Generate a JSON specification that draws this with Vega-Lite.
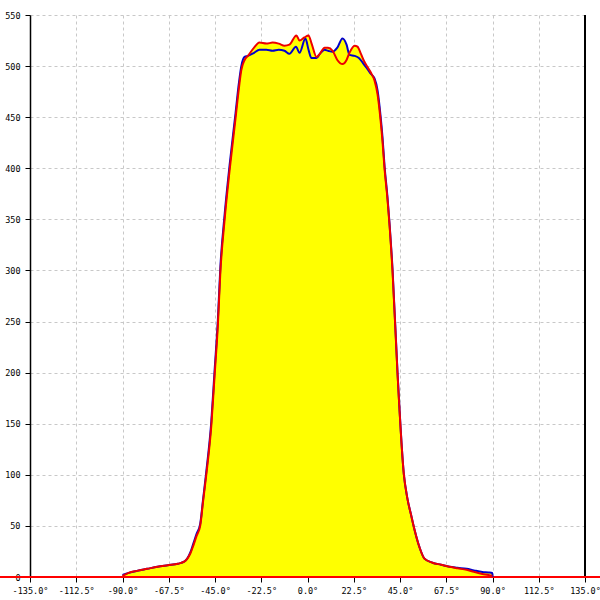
{
  "$schema": "https://vega.github.io/schema/vega-lite/v6.json",
  "width": 555,
  "height": 562,
  "autosize": {"type": "none"},
  "padding": {"left": 30, "top": 15, "right": 15, "bottom": 23},
  "background": "white",
  "config": {
    "view": {"stroke": null},
    "font": "DejaVu Sans Mono",
    "axis": {
      "labelFont": "DejaVu Sans Mono",
      "labelFontSize": 8.5,
      "labelColor": "#000000",
      "gridColor": "#c8c8c8",
      "gridDash": [3, 3],
      "gridWidth": 1,
      "tickColor": "#000000",
      "tickSize": 5,
      "domainColor": "#000000",
      "title": null
    }
  },
  "data": {
    "values": [
      {"angle": -90, "value": 2, "series": "blue"},
      {"angle": -87, "value": 4, "series": "blue"},
      {"angle": -83, "value": 6, "series": "blue"},
      {"angle": -78, "value": 8, "series": "blue"},
      {"angle": -73, "value": 10, "series": "blue"},
      {"angle": -68, "value": 11.5, "series": "blue"},
      {"angle": -63, "value": 13, "series": "blue"},
      {"angle": -60, "value": 15, "series": "blue"},
      {"angle": -58.5, "value": 18, "series": "blue"},
      {"angle": -57, "value": 24, "series": "blue"},
      {"angle": -55.5, "value": 33, "series": "blue"},
      {"angle": -54, "value": 42, "series": "blue"},
      {"angle": -52.2, "value": 52, "series": "blue"},
      {"angle": -50.8, "value": 76, "series": "blue"},
      {"angle": -49.3, "value": 102, "series": "blue"},
      {"angle": -46.8, "value": 152, "series": "blue"},
      {"angle": -45.2, "value": 202, "series": "blue"},
      {"angle": -43.6, "value": 252, "series": "blue"},
      {"angle": -42.4, "value": 303, "series": "blue"},
      {"angle": -40.4, "value": 353, "series": "blue"},
      {"angle": -37.9, "value": 403, "series": "blue"},
      {"angle": -35.0, "value": 454, "series": "blue"},
      {"angle": -33.4, "value": 483, "series": "blue"},
      {"angle": -32.2, "value": 500, "series": "blue"},
      {"angle": -30.6, "value": 509, "series": "blue"},
      {"angle": -29, "value": 510, "series": "blue"},
      {"angle": -26, "value": 513, "series": "blue"},
      {"angle": -23.4, "value": 516, "series": "blue"},
      {"angle": -20, "value": 516, "series": "blue"},
      {"angle": -17, "value": 515, "series": "blue"},
      {"angle": -14, "value": 516, "series": "blue"},
      {"angle": -11.2, "value": 515, "series": "blue"},
      {"angle": -8.8, "value": 512, "series": "blue"},
      {"angle": -5.6, "value": 519, "series": "blue"},
      {"angle": -3.9, "value": 513, "series": "blue"},
      {"angle": -1, "value": 527, "series": "blue"},
      {"angle": 0.5, "value": 516, "series": "blue"},
      {"angle": 1.9, "value": 508, "series": "blue"},
      {"angle": 4.4, "value": 508, "series": "blue"},
      {"angle": 6, "value": 512, "series": "blue"},
      {"angle": 8.3, "value": 516, "series": "blue"},
      {"angle": 10, "value": 515, "series": "blue"},
      {"angle": 12.2, "value": 514, "series": "blue"},
      {"angle": 14.5, "value": 518, "series": "blue"},
      {"angle": 17, "value": 527, "series": "blue"},
      {"angle": 19, "value": 521, "series": "blue"},
      {"angle": 20.4, "value": 511, "series": "blue"},
      {"angle": 22.9, "value": 510, "series": "blue"},
      {"angle": 25, "value": 508, "series": "blue"},
      {"angle": 27, "value": 503, "series": "blue"},
      {"angle": 29.2, "value": 497, "series": "blue"},
      {"angle": 31, "value": 492, "series": "blue"},
      {"angle": 32.6, "value": 488, "series": "blue"},
      {"angle": 34.1, "value": 476, "series": "blue"},
      {"angle": 35.5, "value": 452, "series": "blue"},
      {"angle": 36.5, "value": 430, "series": "blue"},
      {"angle": 37.5, "value": 402, "series": "blue"},
      {"angle": 38.9, "value": 372, "series": "blue"},
      {"angle": 41.4, "value": 300, "series": "blue"},
      {"angle": 43.8, "value": 200, "series": "blue"},
      {"angle": 46.9, "value": 100, "series": "blue"},
      {"angle": 48.5, "value": 78, "series": "blue"},
      {"angle": 50.6, "value": 59, "series": "blue"},
      {"angle": 52.1, "value": 46, "series": "blue"},
      {"angle": 54.5, "value": 29, "series": "blue"},
      {"angle": 56.9, "value": 18, "series": "blue"},
      {"angle": 60.8, "value": 14, "series": "blue"},
      {"angle": 65, "value": 12, "series": "blue"},
      {"angle": 69.1, "value": 10, "series": "blue"},
      {"angle": 73, "value": 9, "series": "blue"},
      {"angle": 77.4, "value": 8, "series": "blue"},
      {"angle": 81, "value": 6.5, "series": "blue"},
      {"angle": 85.1, "value": 5, "series": "blue"},
      {"angle": 88, "value": 4.5, "series": "blue"},
      {"angle": 89.9, "value": 4, "series": "blue"},
      {"angle": 90, "value": 0, "series": "blue"},

      {"angle": -90, "value": 1, "series": "red"},
      {"angle": -87, "value": 4, "series": "red"},
      {"angle": -83, "value": 6, "series": "red"},
      {"angle": -78, "value": 8, "series": "red"},
      {"angle": -73, "value": 10, "series": "red"},
      {"angle": -68, "value": 11.5, "series": "red"},
      {"angle": -63, "value": 13, "series": "red"},
      {"angle": -60, "value": 15, "series": "red"},
      {"angle": -58.5, "value": 18, "series": "red"},
      {"angle": -57, "value": 23, "series": "red"},
      {"angle": -55.5, "value": 31, "series": "red"},
      {"angle": -54, "value": 40, "series": "red"},
      {"angle": -52.2, "value": 50, "series": "red"},
      {"angle": -50.8, "value": 74, "series": "red"},
      {"angle": -49.3, "value": 99, "series": "red"},
      {"angle": -46.8, "value": 148, "series": "red"},
      {"angle": -45.2, "value": 197, "series": "red"},
      {"angle": -43.6, "value": 247, "series": "red"},
      {"angle": -42.4, "value": 298, "series": "red"},
      {"angle": -40.4, "value": 348, "series": "red"},
      {"angle": -37.9, "value": 398, "series": "red"},
      {"angle": -35.0, "value": 449, "series": "red"},
      {"angle": -33.4, "value": 478, "series": "red"},
      {"angle": -32.2, "value": 496, "series": "red"},
      {"angle": -30.6, "value": 506, "series": "red"},
      {"angle": -29, "value": 510, "series": "red"},
      {"angle": -26, "value": 518, "series": "red"},
      {"angle": -23.4, "value": 523, "series": "red"},
      {"angle": -20, "value": 522, "series": "red"},
      {"angle": -17, "value": 523, "series": "red"},
      {"angle": -14, "value": 522, "series": "red"},
      {"angle": -11.2, "value": 520, "series": "red"},
      {"angle": -8.8, "value": 521, "series": "red"},
      {"angle": -5.4, "value": 530, "series": "red"},
      {"angle": -3.9, "value": 525, "series": "red"},
      {"angle": -1.5, "value": 528, "series": "red"},
      {"angle": 0.5, "value": 530, "series": "red"},
      {"angle": 2, "value": 522, "series": "red"},
      {"angle": 4.4, "value": 509, "series": "red"},
      {"angle": 6, "value": 512, "series": "red"},
      {"angle": 8.3, "value": 518, "series": "red"},
      {"angle": 10, "value": 518, "series": "red"},
      {"angle": 12.2, "value": 515, "series": "red"},
      {"angle": 14.5, "value": 506, "series": "red"},
      {"angle": 17, "value": 502, "series": "red"},
      {"angle": 19, "value": 506, "series": "red"},
      {"angle": 20.4, "value": 513, "series": "red"},
      {"angle": 22.9, "value": 520, "series": "red"},
      {"angle": 24.3, "value": 519, "series": "red"},
      {"angle": 26, "value": 512, "series": "red"},
      {"angle": 27.5, "value": 505, "series": "red"},
      {"angle": 29.2, "value": 499, "series": "red"},
      {"angle": 31, "value": 493, "series": "red"},
      {"angle": 32.6, "value": 486, "series": "red"},
      {"angle": 34.1, "value": 472, "series": "red"},
      {"angle": 35.5, "value": 448, "series": "red"},
      {"angle": 36.5, "value": 426, "series": "red"},
      {"angle": 37.5, "value": 399, "series": "red"},
      {"angle": 38.9, "value": 370, "series": "red"},
      {"angle": 41.4, "value": 298, "series": "red"},
      {"angle": 43.8, "value": 199, "series": "red"},
      {"angle": 46.9, "value": 100, "series": "red"},
      {"angle": 48.5, "value": 78, "series": "red"},
      {"angle": 50.6, "value": 59, "series": "red"},
      {"angle": 52.1, "value": 46, "series": "red"},
      {"angle": 54.5, "value": 29, "series": "red"},
      {"angle": 56.9, "value": 18, "series": "red"},
      {"angle": 60.8, "value": 14, "series": "red"},
      {"angle": 65, "value": 12, "series": "red"},
      {"angle": 69.1, "value": 10, "series": "red"},
      {"angle": 73, "value": 8.5, "series": "red"},
      {"angle": 77.4, "value": 7, "series": "red"},
      {"angle": 81, "value": 5, "series": "red"},
      {"angle": 85.1, "value": 3, "series": "red"},
      {"angle": 88, "value": 2, "series": "red"},
      {"angle": 90, "value": 1, "series": "red"}
    ]
  },
  "encoding": {
    "x": {
      "field": "angle",
      "type": "quantitative",
      "scale": {"domain": [-135, 135], "nice": false, "zero": false},
      "axis": {
        "values": [-135, -112.5, -90, -67.5, -45, -22.5, 0, 22.5, 45, 67.5, 90, 112.5, 135],
        "labelExpr": "replace(format(datum.value, '.1f'), '−', '-') + '°'",
        "domain": false,
        "labelPadding": 4,
        "labelFlush": false
      }
    },
    "y": {
      "field": "value",
      "type": "quantitative",
      "scale": {"domain": [0, 550], "nice": false},
      "axis": {
        "values": [0, 50, 100, 150, 200, 250, 300, 350, 400, 450, 500, 550],
        "labelPadding": 5,
        "domainWidth": 1.5
      }
    }
  },
  "layer": [
    {
      "mark": {"type": "area", "color": "#ffff00", "interpolate": "monotone", "opacity": 1},
      "encoding": {"detail": {"field": "series"}, "y": {"field": "value", "type": "quantitative", "stack": null}}
    },
    {
      "mark": {"type": "rule", "color": "#000000", "strokeWidth": 1.5},
      "encoding": {"x": {"datum": 135}, "y": {"datum": 0}, "y2": {"datum": 550}}
    },
    {
      "mark": {"type": "rule", "color": "#ff0000", "strokeWidth": 2, "clip": false},
      "encoding": {"x": {"datum": -150}, "x2": {"datum": 143}, "y": {"datum": 0}}
    },
    {
      "mark": {"type": "line", "interpolate": "monotone", "strokeWidth": 2},
      "encoding": {
        "color": {
          "field": "series",
          "type": "nominal",
          "scale": {"domain": ["blue", "red"], "range": ["#0000cc", "#ee0000"]},
          "legend": null
        }
      }
    }
  ]
}
